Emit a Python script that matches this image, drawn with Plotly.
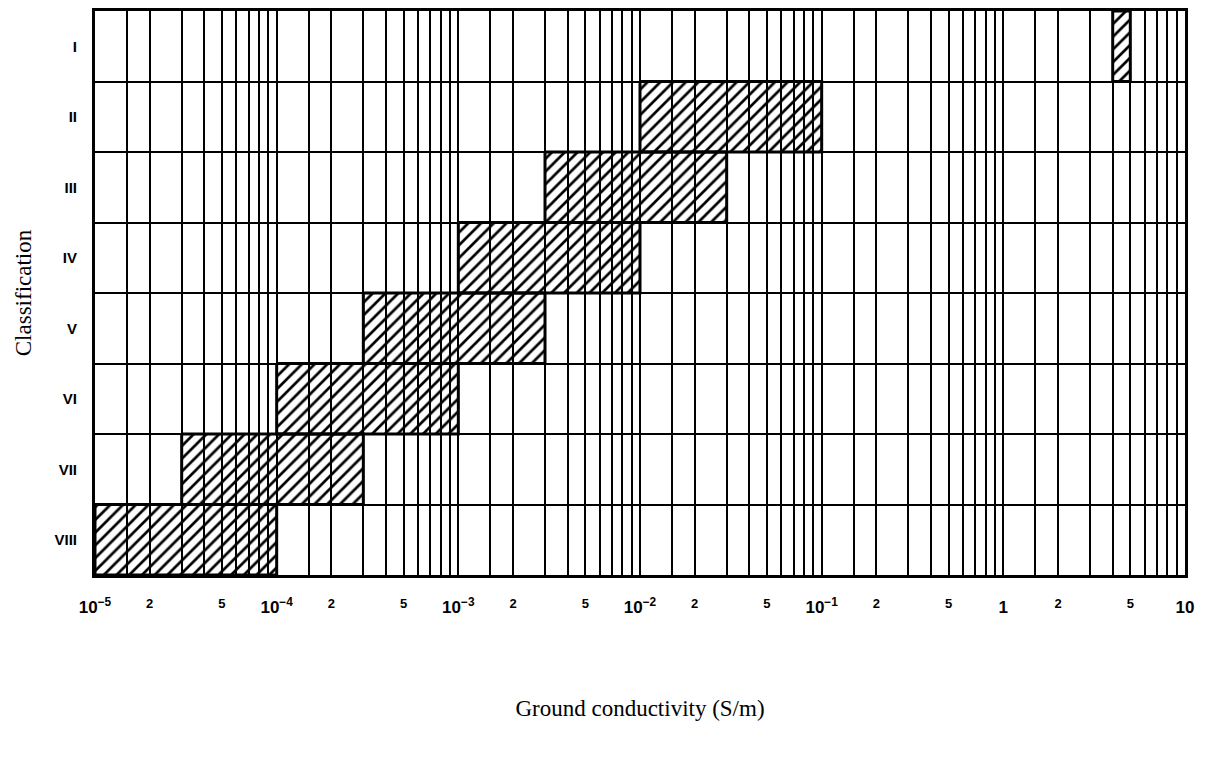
import plotly.graph_objects as go

# Ground classes and their conductivity bands (S/m)
classes = ["I", "II", "III", "IV", "V", "VI", "VII", "VIII"]
sigma_low = [4, 1e-2, 3e-3, 1e-3, 3e-4, 1e-4, 3e-5, 1e-5]
sigma_high = [5, 1e-1, 3e-2, 1e-2, 3e-3, 1e-3, 3e-4, 1e-4]

# Axis tick marks: decade labels, in-between labels and unlabelled grid values
decades = [-5, -4, -3, -2, -1, 0]
decade_text = ["10<sup>−5</sup>", "10<sup>−4</sup>", "10<sup>−3</sup>",
               "10<sup>−2</sup>", "10<sup>−1</sup>", "1", "10"]
label_mults = [2, 5]
grid_mults = [1.5, 3, 4, 6, 7, 8, 9]

decade_vals = [10.0 ** d for d in decades] + [10.0]
mid_vals = [m * 10.0 ** d for d in decades for m in label_mults]
mid_text = [str(m) for d in decades for m in label_mults]
minor_vals = [m * 10.0 ** d for d in decades for m in grid_mults]

fig = go.Figure()
for i, (name, lo, hi) in enumerate(zip(classes, sigma_low, sigma_high)):
    fig.add_trace(go.Scatter(
        x=[lo, hi, hi, lo, lo],
        y=[i, i, i + 1, i + 1, i],
        mode="lines",
        fill="toself",
        fillcolor="rgba(0,0,0,0)",
        fillpattern=dict(shape="/", fgcolor="black", bgcolor="rgba(0,0,0,0)",
                         fgopacity=1, size=9, solidity=0.3, fillmode="overlay"),
        line=dict(color="black", width=3),
        name=name,
        hoverinfo="skip",
    ))

# empty trace so the secondary label axis is drawn
fig.add_trace(go.Scatter(x=[decade_vals[0], decade_vals[-1]], y=[None, None],
                         mode="lines", xaxis="x2", yaxis="y",
                         hoverinfo="skip", showlegend=False))

fig.update_layout(
    width=1208, height=758,
    margin=dict(l=95, r=23, t=8, b=183),
    plot_bgcolor="white", paper_bgcolor="white",
    showlegend=False,
    font=dict(family="Liberation Sans, Arial, sans-serif", color="black"),
    xaxis=dict(
        type="log", range=[-5, 1], tickmode="array",
        tickvals=decade_vals, ticktext=["<b>%s</b>" % t for t in decade_text],
        ticks="", ticklabelstandoff=15,
        tickfont=dict(size=17, family="Liberation Sans, Arial, sans-serif"),
        showgrid=True, gridcolor="black", gridwidth=1.5,
        minor=dict(tickvals=mid_vals + minor_vals, showgrid=True,
                   gridcolor="black", gridwidth=1.5, ticks=""),
        showline=True, linecolor="black", linewidth=3, mirror=True,
        zeroline=False,
        title=dict(text="Ground conductivity (S/m)", standoff=84,
                   font=dict(family="Liberation Serif, Times New Roman, serif", size=23)),
    ),
    # second bottom axis carrying the smaller "2" and "5" labels
    xaxis2=dict(
        type="log", range=[-5, 1], overlaying="x", side="bottom", anchor="y",
        tickmode="array", tickvals=mid_vals,
        ticktext=["<b>%s</b>" % t for t in mid_text],
        ticks="", ticklabelstandoff=19,
        tickfont=dict(size=13, family="Liberation Sans, Arial, sans-serif"),
        showgrid=False, showline=False, zeroline=False,
    ),
    yaxis=dict(
        range=[8, 0], tickmode="array",
        tickvals=[i + 0.5 for i in range(len(classes))],
        ticktext=["<b>%s</b>" % c for c in classes],
        ticks="", ticklabelstandoff=12,
        tickfont=dict(size=15, family="Liberation Sans, Arial, sans-serif"),
        showgrid=False,
        minor=dict(tickvals=list(range(1, len(classes))), showgrid=True,
                   gridcolor="black", gridwidth=1.5, ticks=""),
        showline=True, linecolor="black", linewidth=3, mirror=True,
        zeroline=False,
        title=dict(text="Classification", standoff=17,
                   font=dict(family="Liberation Serif, Times New Roman, serif", size=23)),
    ),
)

fig.write_html("out.html")
